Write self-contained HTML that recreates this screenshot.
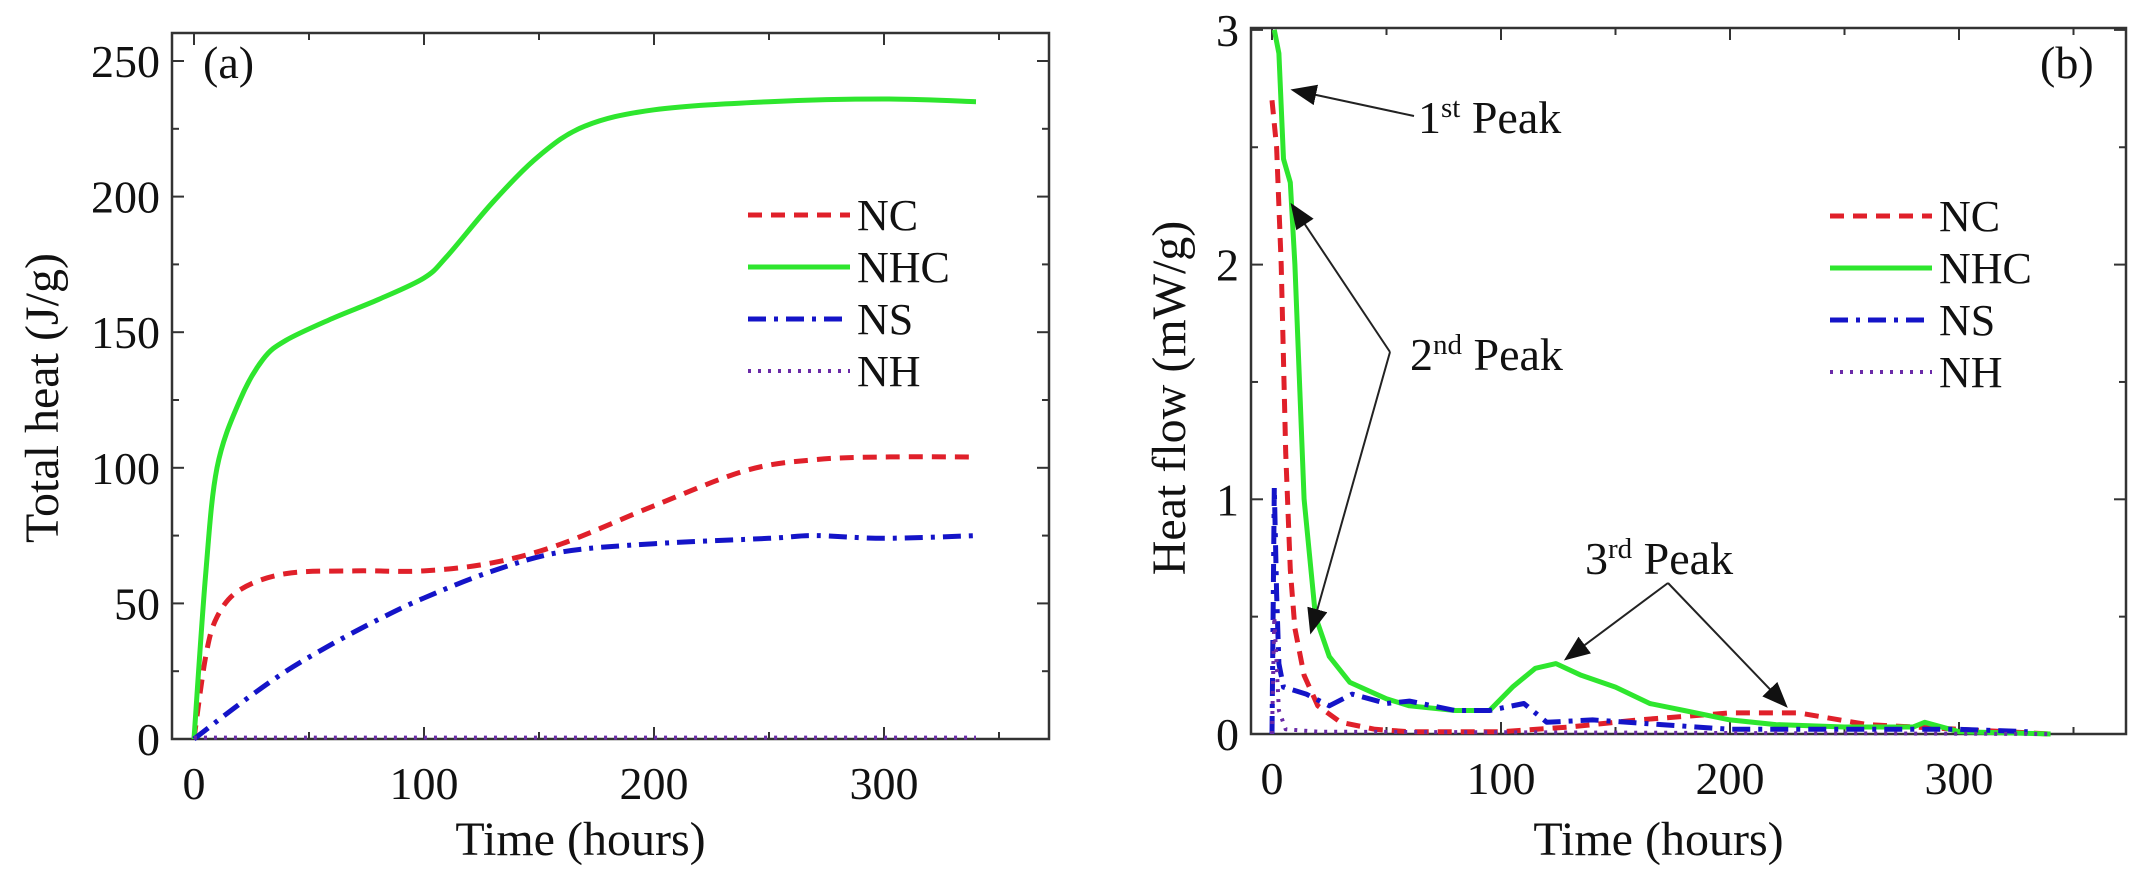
<!DOCTYPE html>
<html><head><meta charset="utf-8">
<style>
html,body{margin:0;padding:0;background:#fff;}
svg{display:block;}
text{font-family:"Liberation Serif",serif;fill:#111;}
</style></head>
<body>
<svg id="chart" width="2143" height="878" viewBox="0 0 2143 878" xmlns="http://www.w3.org/2000/svg">
<g id="panelA"></g>
<g id="panelB"></g>
</svg>
<script>
// ---- Panel (a) data: total heat (J/g) vs time (hours)
const aXTicks = [0, 100, 200, 300];
const aYTicks = [0, 50, 100, 150, 200, 250];
const aNC_t = [0, 5, 10, 20, 40, 70, 100, 130, 160, 200, 240, 270, 300, 340];
const aNC_v = [0, 30, 45, 55, 61, 62, 62, 65, 72, 86, 99, 103, 104, 104];
const aNHC_t = [0, 5, 10, 20, 30, 40, 60, 80, 100, 110, 130, 150, 170, 200, 250, 300, 340];
const aNHC_v = [0, 60, 100, 125, 140, 147, 155, 162, 170, 178, 198, 215, 226, 232, 235, 236, 235];
const aNS_t = [0, 20, 40, 60, 80, 100, 130, 160, 200, 250, 270, 300, 340];
const aNS_v = [0, 13, 25, 35, 44, 52, 62, 69, 72, 74, 75, 74, 75];
const aNH_t = [0, 340];
const aNH_v = [0.5, 0.5];

// ---- Panel (b) data: heat flow (mW/g) vs time (hours)
const bXTicks = [0, 100, 200, 300];
const bYTicks = [0, 1, 2, 3];
const bNC_t = [0, 2, 4, 6, 8, 10, 14, 20, 30, 45, 60, 100, 130, 160, 200, 230, 260, 300, 340];
const bNC_v = [2.7, 2.5, 2.0, 1.2, 0.7, 0.45, 0.25, 0.12, 0.05, 0.02, 0.01, 0.01, 0.03, 0.06, 0.09, 0.09, 0.04, 0.02, 0.0];
const bNHC_t = [1, 3, 5, 8, 10, 12, 14, 19, 25, 34, 50, 60, 80, 95, 105, 115, 124, 135, 150, 165, 180, 200, 220, 250, 280, 285, 300, 340];
const bNHC_v = [3.0, 2.9, 2.45, 2.35, 2.0, 1.5, 1.0, 0.5, 0.33, 0.22, 0.15, 0.12, 0.10, 0.10, 0.20, 0.28, 0.30, 0.25, 0.20, 0.13, 0.10, 0.06, 0.04, 0.03, 0.03, 0.05, 0.01, 0.0];
const bNS_t = [0, 1, 2, 3, 5, 15, 25, 35, 50, 60, 80, 95, 110, 120, 140, 170, 200, 250, 300, 330];
const bNS_v = [0, 1.05, 0.6, 0.3, 0.2, 0.17, 0.12, 0.17, 0.13, 0.14, 0.10, 0.10, 0.13, 0.05, 0.06, 0.04, 0.02, 0.02, 0.02, 0.01];
const bNH_t = [0, 1, 2, 3, 6, 20, 340];
const bNH_v = [0, 0.5, 0.3, 0.1, 0.02, 0.01, 0.0];

const NS = "http://www.w3.org/2000/svg";
function mk(tag, attrs, parent) {
  const e = document.createElementNS(NS, tag);
  for (const k in attrs) e.setAttribute(k, attrs[k]);
  parent.appendChild(e);
  return e;
}
const STY = {
  NC: {stroke: "#e0202a", "stroke-width": 5, "stroke-dasharray": "14,9"},
  NHC: {stroke: "#2ee62e", "stroke-width": 5},
  NS: {stroke: "#1414c8", "stroke-width": 5, "stroke-dasharray": "18,8,4,8"},
  NH: {stroke: "#6a2aa8", "stroke-width": 4, "stroke-dasharray": "3,7"}
};

function axisFn(d0, p0, scale) { return v => p0 + (v - d0) * scale; }

function pathD(pts, smooth) {
  let d = "M" + pts[0][0].toFixed(1) + "," + pts[0][1].toFixed(1);
  for (let i = 1; i < pts.length; i++) {
    if (!smooth) { d += "L" + pts[i][0].toFixed(1) + "," + pts[i][1].toFixed(1); continue; }
    const p0 = pts[Math.max(0, i - 2)], p1 = pts[i - 1], p2 = pts[i], p3 = pts[Math.min(pts.length - 1, i + 1)];
    const c1x = p1[0] + (p2[0] - p0[0]) / 6, c1y = p1[1] + (p2[1] - p0[1]) / 6;
    const c2x = p2[0] - (p3[0] - p1[0]) / 6, c2y = p2[1] - (p3[1] - p1[1]) / 6;
    d += "C" + c1x.toFixed(1) + "," + c1y.toFixed(1) + " " + c2x.toFixed(1) + "," + c2y.toFixed(1) + " " + p2[0].toFixed(1) + "," + p2[1].toFixed(1);
  }
  return d;
}

function drawPanel(g, cfg) {
  const X = cfg.X, Y = cfg.Y;
  const box = mk("rect", {x: cfg.L, y: cfg.T, width: cfg.R - cfg.L, height: cfg.B - cfg.T, fill: "none", stroke: "#333", "stroke-width": 2.5}, g);
  
  
  for (let t = 0; X(t) < cfg.R - 2; t += cfg.xMinor) {
    const major = (t % cfg.xMajor) === 0;
    const len = major ? 12 : 7;
    const px = X(t);
    mk("line", {x1: px, y1: cfg.B, x2: px, y2: cfg.B - len, stroke: "#333", "stroke-width": 2}, g);
    mk("line", {x1: px, y1: cfg.T, x2: px, y2: cfg.T + len, stroke: "#333", "stroke-width": 2}, g);
  }
  cfg.xTicks.forEach(t => {
    const tx = mk("text", {x: X(t), y: cfg.B + 60, "font-size": 46, "text-anchor": "middle"}, g);
    tx.textContent = t;
    
    
  });
  for (let v = 0; Y(v) > cfg.T - 1; v += cfg.yMinor) {
    const vv = Math.round(v * 1000) / 1000;
    const major = Math.abs(vv / cfg.yMajor - Math.round(vv / cfg.yMajor)) < 1e-6;
    const len = major ? 12 : 7;
    const py = Y(vv);
    mk("line", {x1: cfg.L, y1: py, x2: cfg.L + len, y2: py, stroke: "#333", "stroke-width": 2}, g);
    mk("line", {x1: cfg.R, y1: py, x2: cfg.R - len, y2: py, stroke: "#333", "stroke-width": 2}, g);
  }
  cfg.yTicks.forEach(v => {
    const tx = mk("text", {x: cfg.L - 12, y: Y(v) + 16, "font-size": 46, "text-anchor": "end"}, g);
    tx.textContent = v;
    
    
  });
  cfg.series.forEach(s => {
    const pts = s.t.map((t, i) => [X(t), Y(s.v[i])]);
    const p = mk("path", Object.assign({d: pathD(pts, cfg.smooth), fill: "none", "stroke-linejoin": "round"}, STY[s.name]), g);
    
    
  });
  const names = ["NC", "NHC", "NS", "NH"];
  names.forEach((n, i) => {
    const ly = cfg.legY + i * 52;
    const lg = mk("g", {}, g);
    
    
    mk("line", Object.assign({x1: cfg.legX, y1: ly, x2: cfg.legX + 102, y2: ly}, STY[n]), lg);
    const tx = mk("text", {x: cfg.legX + 109, y: ly + 15, "font-size": 44}, lg);
    tx.textContent = n;
  });
  const pl = mk("text", {x: cfg.labX, y: 78, "font-size": 46}, g);
  pl.textContent = cfg.label;
  
  
  const xt = mk("text", {x: (cfg.L + cfg.R) / 2 - 30, y: 855, "font-size": 48, "text-anchor": "middle"}, g);
  xt.textContent = "Time (hours)";
  
  
  const yt = mk("text", {x: 0, y: 0, "font-size": 48, "text-anchor": "middle", transform: "translate(" + cfg.yTitleX + ",398) rotate(-90)"}, g);
  yt.textContent = cfg.yTitle;
  
  
}

drawPanel(document.getElementById("panelA"), {
  L: 172, R: 1049, T: 33, B: 739,
  X: axisFn(0, 194, 2.3), Y: axisFn(0, 739, -2.712),
  xMinor: 50, xMajor: 100, yMinor: 25, yMajor: 50, smooth: true,
  xTicks: aXTicks, yTicks: aYTicks,
  series: [{name: "NC", t: aNC_t, v: aNC_v}, {name: "NHC", t: aNHC_t, v: aNHC_v}, {name: "NS", t: aNS_t, v: aNS_v}, {name: "NH", t: aNH_t, v: aNH_v}],
  legX: 748, legY: 215, labX: 203, label: "(a)", yTitleX: 58, yTitle: "Total heat (J/g)"
});
drawPanel(document.getElementById("panelB"), {
  L: 1251, R: 2126, T: 28, B: 734,
  X: axisFn(0, 1272, 2.29), Y: axisFn(0, 734, -234.7),
  xMinor: 50, xMajor: 100, yMinor: 0.5, yMajor: 1, smooth: false,
  xTicks: bXTicks, yTicks: bYTicks,
  series: [{name: "NC", t: bNC_t, v: bNC_v}, {name: "NHC", t: bNHC_t, v: bNHC_v}, {name: "NS", t: bNS_t, v: bNS_v}, {name: "NH", t: bNH_t, v: bNH_v}],
  legX: 1830, legY: 216, labX: 2040, label: "(b)", yTitleX: 1185, yTitle: "Heat flow (mW/g)"
});

const gB = document.getElementById("panelB");
const defs = mk("defs", {}, document.getElementById("chart"));
const mkr = mk("marker", {id: "arr", viewBox: "0 0 10 10", refX: 9, refY: 5, markerWidth: 26, markerHeight: 26, orient: "auto-start-reverse", markerUnits: "userSpaceOnUse"}, defs);
mk("path", {d: "M0,1 L10,5 L0,9 z", fill: "#111"}, mkr);
function arrow(x1, y1, x2, y2, name) {
  const l = mk("line", {x1: x1, y1: y1, x2: x2, y2: y2, stroke: "#222", "stroke-width": 2, "marker-end": "url(#arr)"}, gB);
  
  
}
function label(x, y, sup, name) {
  const t = mk("text", {x: x, y: y, "font-size": 46}, gB);
  
  
  const a = mk("tspan", {}, t); a.textContent = sup[0];
  const b = mk("tspan", {dy: -16, "font-size": 29}, t); b.textContent = sup[1];
  const c = mk("tspan", {dy: 16}, t); c.textContent = " Peak";
}
arrow(1414, 116, 1293, 90, "first-peak-arrow");
label(1418, 133, ["1", "st"], "first-peak-label");
arrow(1390, 352, 1292, 205, "second-peak-arrow-a");
arrow(1390, 352, 1311, 632, "second-peak-arrow-b");
label(1410, 370, ["2", "nd"], "second-peak-label");
arrow(1668, 583, 1566, 659, "third-peak-arrow-a");
arrow(1668, 583, 1786, 706, "third-peak-arrow-b");
label(1585, 574, ["3", "rd"], "third-peak-label");
</script>
</body></html>
